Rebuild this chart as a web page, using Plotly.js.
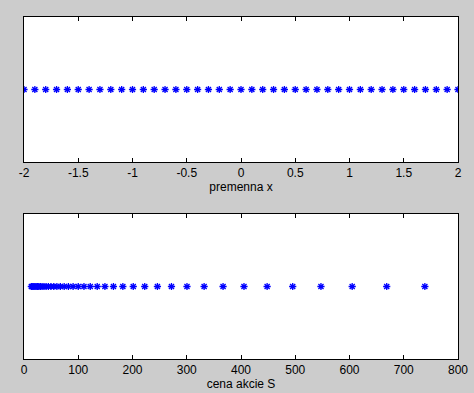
<!DOCTYPE html>
<html>
<head>
<meta charset="utf-8">
<script src="https://cdn.plot.ly/plotly-3.0.1.min.js"></script>
<style>html,body{margin:0;padding:0;background:#cccccc;}#chart{width:474px;height:393px;}</style>
</head>
<body>
<div id="chart"></div>
<script>
// premenna x
var xValues = [-2.0,-1.9,-1.8,-1.7,-1.6,-1.5,-1.4,-1.3,-1.2,-1.1,-1.0,-0.9,-0.8,-0.7,-0.6,-0.5,-0.4,-0.3,-0.2,-0.1,0.0,
  0.1,0.2,0.3,0.4,0.5,0.6,0.7,0.8,0.9,1.0,1.1,1.2,1.3,1.4,1.5,1.6,1.7,1.8,1.9,2.0];
var xLevel = [0,0,0,0,0,0,0,0,0,0,0,0,0,0,0,0,0,0,0,0,0,0,0,0,0,0,0,0,0,0,0,0,0,0,0,0,0,0,0,0,0];
// cena akcie S
var sValues = [13.53,14.96,16.53,18.27,20.19,22.31,24.66,27.25,30.12,33.29,36.79,40.66,44.93,49.66,54.88,60.65,67.03,74.08,81.87,90.48,100.00,
  110.52,122.14,134.99,149.18,164.87,182.21,201.38,222.55,245.96,271.83,300.42,332.01,366.93,405.52,448.17,495.30,547.39,604.96,668.59,738.91];
var sLevel = [0,0,0,0,0,0,0,0,0,0,0,0,0,0,0,0,0,0,0,0,0,0,0,0,0,0,0,0,0,0,0,0,0,0,0,0,0,0,0,0,0];

var xTickVals = [-2,-1.5,-1,-0.5,0,0.5,1,1.5,2];
var xTickText = ['-2','-1.5','-1','-0.5','0','0.5','1','1.5','2'];
var sTickVals = [0,100,200,300,400,500,600,700,800];
var sTickText = ['0','100','200','300','400','500','600','700','800'];

var markerStyle = {symbol:'asterisk-open', size:6, color:'#0000ff', line:{color:'#0000ff', width:1.3}};
var traces = [
  {x:xValues, y:xLevel, type:'scatter', mode:'markers', marker:markerStyle, xaxis:'x', yaxis:'y', hoverinfo:'none'},
  {x:sValues, y:sLevel, type:'scatter', mode:'markers', marker:markerStyle, xaxis:'x2', yaxis:'y2', hoverinfo:'none'}
];
var font = {family:'Liberation Sans, Arial, sans-serif', size:12, color:'#000000'};
function xax(range, vals, text, title, anchor){
  return {range:range, tickmode:'array', tickvals:vals, ticktext:text, ticks:'inside', ticklen:4, tickcolor:'#000',
    showline:true, linecolor:'#000', linewidth:1, mirror:'allticks', showgrid:false, zeroline:false,
    tickfont:font, title:{text:title, font:font, standoff:0}, anchor:anchor, domain:[0,1], fixedrange:true};
}
function yax(domain, anchor){
  return {range:[-1,1], domain:domain, showticklabels:false, ticks:'', showline:true, linecolor:'#000', linewidth:1,
    mirror:true, showgrid:false, zeroline:false, anchor:anchor, fixedrange:true};
}
var layout = {
  width:474, height:393,
  paper_bgcolor:'#cccccc', plot_bgcolor:'#ffffff',
  margin:{l:24, r:16, t:17, b:34, pad:0},
  showlegend:false, font:font,
  xaxis: xax([-2,2], xTickVals, xTickText, 'premenna x', 'y'),
  yaxis: yax([0.576,1], 'x'),
  xaxis2: xax([0,800], sTickVals, sTickText, 'cena akcie S', 'y2'),
  yaxis2: yax([0,0.424], 'x2')
};
Plotly.newPlot('chart', traces, layout, {staticPlot:true, displayModeBar:false});
</script>
</body>
</html>
